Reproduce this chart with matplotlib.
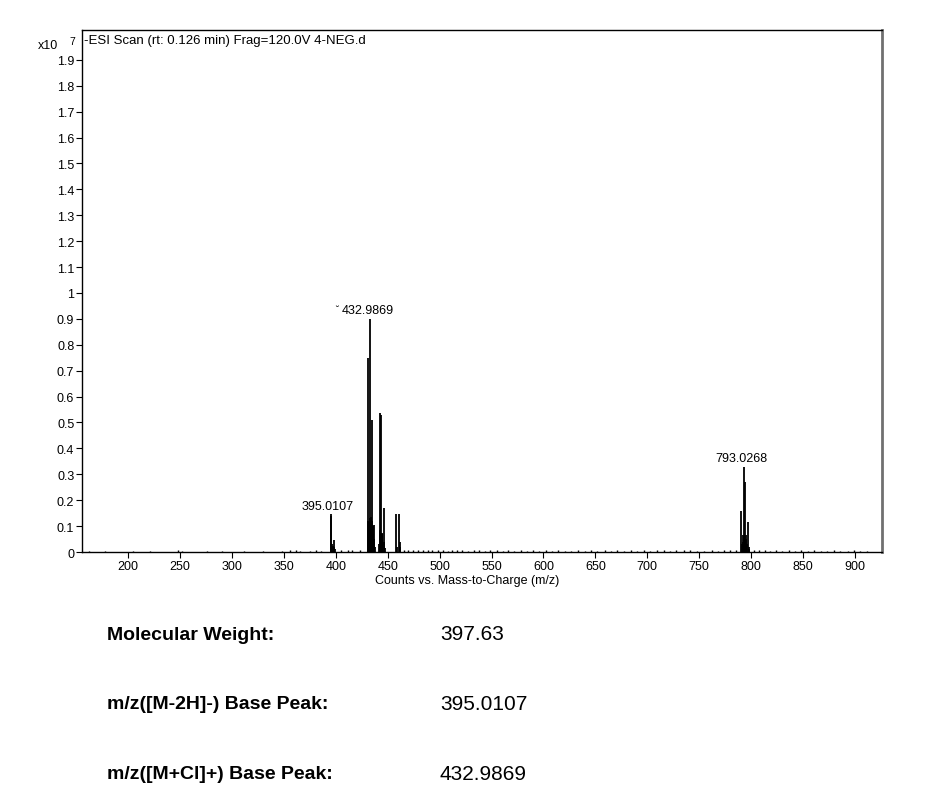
import matplotlib
matplotlib.use("Agg")
import matplotlib.pyplot as plt

# main peaks (m/z, intensity x10^7)
peak_mz = [395.01, 395.5, 396.0, 397.0, 397.9, 398.5, 399.0,
           430.99, 431.5, 432.0, 432.5, 432.99, 433.5, 434.0, 434.5, 434.99,
           435.5, 436.0, 436.5, 437.0, 437.5,
           441.5, 442.2, 442.6, 443.0, 443.8, 444.2, 444.6, 445.0, 446.0, 446.5, 447.0,
           458.3, 459.0, 460.8, 461.4, 462.1,
           790.5, 791.5, 792.0, 792.5, 793.03, 793.5, 794.4, 795.0, 795.5, 796.0,
           796.9, 797.5, 798.2]
peak_int = [0.145, 0.14, 0.03, 0.025, 0.045, 0.02, 0.01,
            0.75, 0.12, 0.115, 0.13, 0.90, 0.135, 0.13, 0.12, 0.51,
            0.10, 0.07, 0.105, 0.05, 0.02,
            0.03, 0.535, 0.08, 0.085, 0.53, 0.075, 0.07, 0.06, 0.17, 0.04, 0.015,
            0.145, 0.02, 0.145, 0.04, 0.02,
            0.159, 0.03, 0.04, 0.065, 0.33, 0.06, 0.27, 0.065, 0.05, 0.03,
            0.117, 0.02, 0.01]

# small baseline peaks
noise_mz = [162, 178, 205, 221, 248, 252, 276, 290, 312, 330, 348, 356, 362, 366,
            375, 381, 386, 405, 412, 416, 423, 466, 470, 474, 479, 484, 489, 493,
            498, 503, 508, 512, 517, 522, 527, 533, 538, 544, 549, 555, 561, 566,
            572, 578, 584, 590, 596, 602, 608, 614, 621, 627, 633, 640, 646, 652,
            659, 665, 671, 678, 684, 690, 697, 703, 709, 716, 722, 728, 735, 741,
            748, 755, 762, 768, 774, 780, 785, 803, 808, 813, 818, 824, 830, 836,
            842, 848, 855, 861, 867, 873, 880, 886, 893, 899, 905, 912]
noise_int = [0.005, 0.003, 0.004, 0.003, 0.006, 0.004, 0.003, 0.004, 0.004, 0.003,
             0.005, 0.006, 0.008, 0.005, 0.004, 0.006, 0.005, 0.006, 0.008, 0.006,
             0.007, 0.008, 0.007, 0.006, 0.008, 0.006, 0.009, 0.007, 0.006, 0.007,
             0.005, 0.008, 0.006, 0.007, 0.005, 0.006, 0.008, 0.005, 0.006, 0.007,
             0.005, 0.006, 0.004, 0.007, 0.005, 0.006, 0.004, 0.007, 0.005, 0.006,
             0.004, 0.005, 0.007, 0.004, 0.006, 0.005, 0.007, 0.004, 0.006, 0.005,
             0.007, 0.004, 0.006, 0.005, 0.008, 0.006, 0.005, 0.007, 0.009, 0.006,
             0.005, 0.004, 0.006, 0.005, 0.007, 0.006, 0.008, 0.008, 0.006, 0.007,
             0.005, 0.006, 0.004, 0.006, 0.005, 0.007, 0.004, 0.006, 0.005, 0.004,
             0.006, 0.005, 0.004, 0.006, 0.005, 0.004]

labels_mz = [395.0107, 432.9869, 793.0268]
labels_int = [0.145, 0.90, 0.33]

info_names = ["Molecular Weight:", "m/z([M-2H]-) Base Peak:", "m/z([M+Cl]+) Base Peak:"]
info_values = ["397.63", "395.0107", "432.9869"]

plt.rcParams['font.family'] = ['Liberation Sans', 'DejaVu Sans']
fs = 9

fig = plt.figure(figsize=(9.41, 8.03), dpi=100)
ax = fig.add_axes([0.0871, 0.3113, 0.8502, 0.6501])

ax.vlines(noise_mz, 0, noise_int, color='black', lw=1)
ax.vlines(peak_mz, 0, peak_int, color='black', lw=1.3)

for m, h in zip(labels_mz, labels_int):
    ax.text(m - 2.5, h + 0.01, f"{m:.4f}", ha='center', va='bottom', fontsize=fs)
ax.text(labels_mz[1] - 32, labels_int[1] + 0.02, "˘", ha='center', va='bottom', fontsize=7)

ax.set_xlim(155.6, 926)
ax.set_ylim(0, 2.015)
ax.set_xticks(range(200, 901, 50))
ax.set_yticks([i / 10 for i in range(0, 20)])
ax.set_yticklabels(["0"] + [f"{i/10:g}" for i in range(1, 20)])
ax.tick_params(labelsize=fs, length=4, width=0.8, pad=1.5)
ax.set_xlabel("Counts vs. Mass-to-Charge (m/z)", fontsize=fs,
              family=['Liberation Sans Narrow', 'Liberation Sans'])
ax.xaxis.set_label_coords(0.482, -0.042)

for s in ['left', 'top', 'bottom']:
    ax.spines[s].set_linewidth(1)
ax.spines['right'].set_color('#707070')
ax.spines['right'].set_linewidth(2)

ax.text(0.003, 0.993, "-ESI Scan (rt: 0.126 min) Frag=120.0V 4-NEG.d",
        transform=ax.transAxes, ha='left', va='top', fontsize=9.5)
fig.text(38 / 941, 1 - 46 / 803, "x10", fontsize=fs, va='center')
fig.text(69 / 941, 1 - 42 / 803, "7", fontsize=7.5, va='center')

rows_y = [635, 705, 775]
for name, val, y in zip(info_names, info_values, rows_y):
    fig.text(107 / 941, 1 - y / 803, name, fontsize=14, fontweight='bold', va='center')
    fig.text(440 / 941, 1 - y / 803, val, fontsize=15, va='center')

fig.savefig("out.png", dpi=100)
